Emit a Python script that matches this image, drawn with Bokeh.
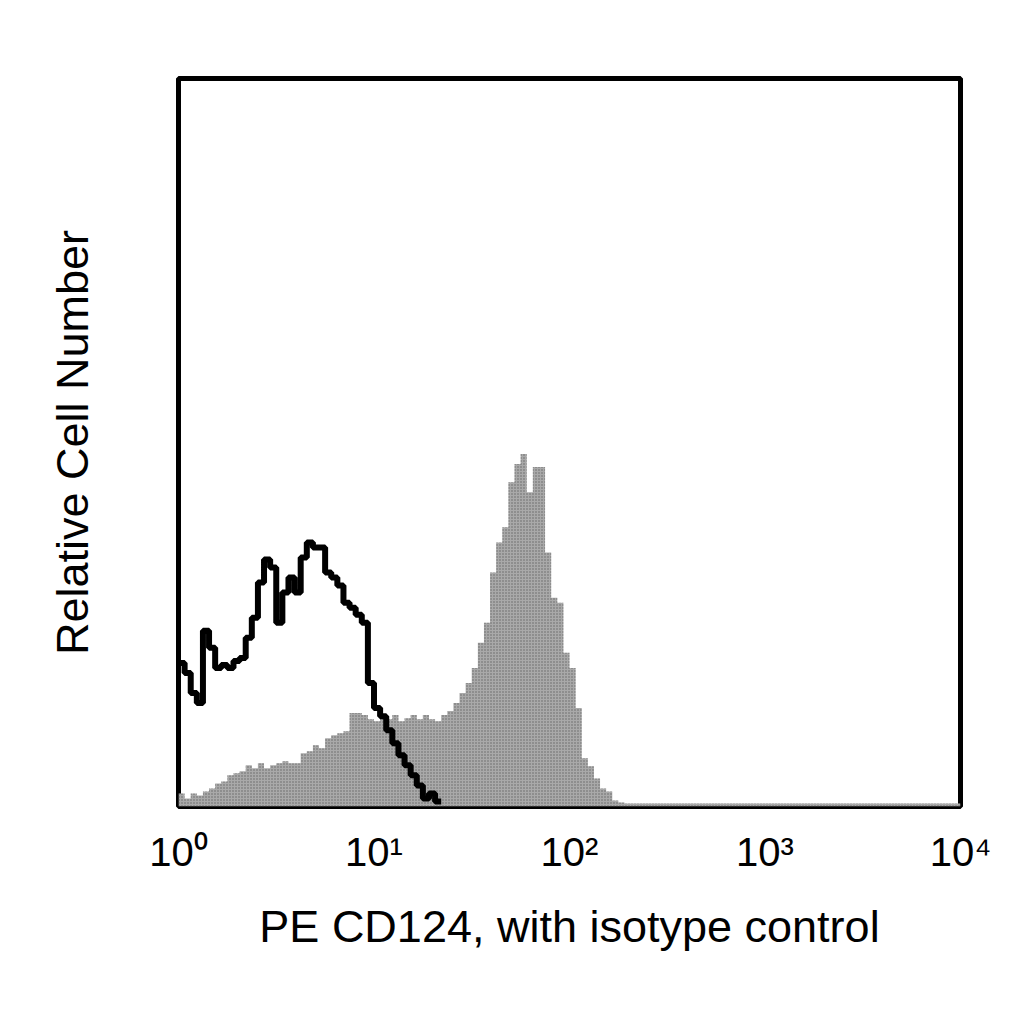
import numpy as np
from bokeh.embed import file_html
from bokeh.models import FixedTicker, Range1d
from bokeh.plotting import figure
from bokeh.resources import INLINE

# 4 decades (10^0 .. 10^4), 32 channel bins per decade
BINS_PER_DECADE = 32
N_BINS = 128

# PE CD124 stained cells (grey filled histogram), relative counts per bin
cd124_counts = [
    13, 8, 13, 11, 15, 18, 23, 25, 31, 33,
    35, 41, 38, 43, 38, 41, 43, 45, 43, 43,
    53, 55, 61, 58, 68, 71, 73, 75, 93, 93,
    91, 87, 85, 91, 87, 91, 85, 88, 91, 87,
    91, 87, 85, 91, 95, 103, 113, 123, 138, 163,
    183, 233, 263, 278, 323, 341, 351, 313, 338, 338,
    253, 208, 203, 153, 138, 98, 48, 40, 28, 18,
    15, 6, 4, 3, 3, 3, 3, 3, 3, 3,
    3, 3, 3, 3, 3, 3, 3, 3, 3, 3,
    3, 3, 3, 3, 3, 3, 3, 3, 3, 3,
    3, 3, 3, 3, 3, 3, 3, 3, 3, 3,
    3, 3, 3, 3, 3, 3, 3, 3, 3, 3,
    3, 3, 3, 3, 3, 3, 3, 3,
]

# isotype control (black outline), relative counts per bin
isotype_counts = [
    143, 133, 113, 103, 175, 158, 138, 141, 138, 145,
    148, 168, 188, 223, 246, 238, 183, 213, 228, 213,
    248, 263, 258, 258, 233, 228, 220, 203, 198, 191,
    183, 123, 98, 90, 76, 63, 51, 41, 31, 21,
    8, 13, 5,
]

decade_ticks = [1, 10, 100, 1000, 10000]
tick_labels = ["10\u2070", "10\u00b9", "10\u00b2", "10\u00b3", "10\u2074"]

FONT = "Liberation Sans"

edges = 10 ** (np.arange(N_BINS + 1) / BINS_PER_DECADE)

p = figure(
    width=1008,
    height=1008,
    x_axis_type="log",
    x_range=Range1d(1, 10000),
    y_range=Range1d(0, 725),
    output_backend="svg",
    toolbar_location=None,
    min_border_left=178,
    min_border_right=48,
    min_border_top=78,
    min_border_bottom=202,
    outline_line_color="black",
    outline_line_width=5,
    background_fill_color="white",
    border_fill_color="white",
)
p.grid.visible = False

for ax in (p.xaxis, p.yaxis):
    ax.axis_line_color = None
    ax.major_tick_line_color = None
    ax.minor_tick_line_color = None
    ax.axis_label_text_font = FONT
    ax.axis_label_text_font_size = "45px"
    ax.axis_label_text_font_style = "normal"
    ax.axis_label_text_color = "black"

p.yaxis.major_label_text_font_size = "1px"
p.yaxis.major_label_text_alpha = 0

# decade tick labels, 10 with a raised exponent
p.xaxis.ticker = FixedTicker(ticks=decade_ticks, minor_ticks=[])
p.xaxis.major_label_overrides = dict(zip(decade_ticks, tick_labels))
p.xaxis.major_label_text_font = FONT
p.xaxis.major_label_text_font_size = "40px"
p.xaxis.major_label_text_color = "black"
p.xaxis.major_label_standoff = 17

p.xaxis.axis_label = "PE CD124, with isotype control"
p.xaxis.axis_label_standoff = 24
p.yaxis.axis_label = "Relative Cell Number"
p.yaxis.axis_label_standoff = 75

# grey filled histogram
gray_y = list(cd124_counts) + [cd124_counts[-1]]
p.varea_step(
    x=edges, y1=np.zeros(len(edges)), y2=gray_y, step_mode="after",
    fill_color="#a9a9a9", hatch_pattern="dot", hatch_color="#666666",
    hatch_scale=3, hatch_weight=1,
)

# isotype control outline
n = len(isotype_counts)
iso_x = edges[: n + 1]
iso_y = list(isotype_counts) + [isotype_counts[-1]]
p.step(x=iso_x, y=iso_y, mode="after", line_color="black", line_width=6)

open("out.html", "w").write(file_html(p, INLINE))
